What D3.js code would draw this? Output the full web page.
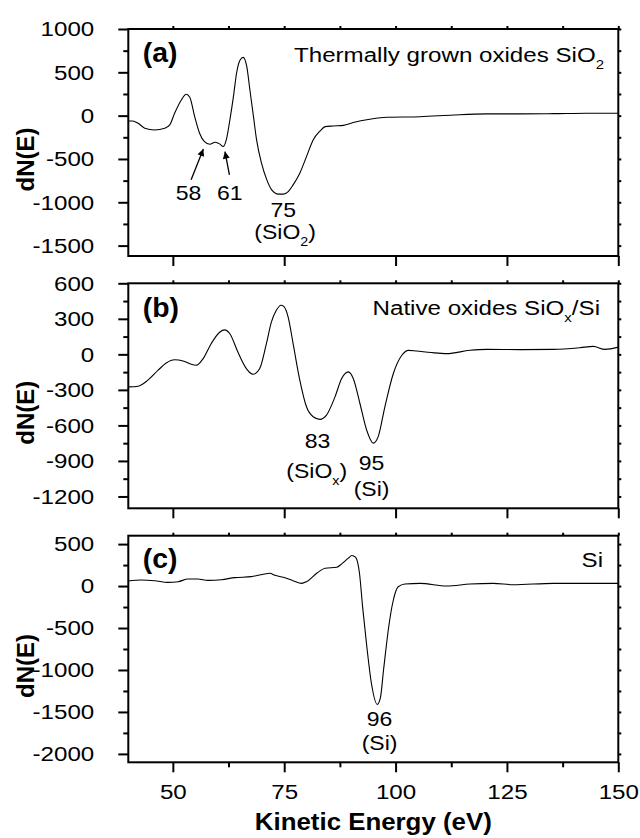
<!DOCTYPE html>
<html>
<head>
<meta charset="utf-8">
<script src="https://cdn.jsdelivr.net/npm/d3@7"></script>
<style>
  body { margin: 0; background: #fff; }
  text { font-family: "Liberation Sans", Arial, sans-serif; fill: #000; }
</style>
</head>
<body>
<div id="chart"></div>
<script>
// size of the page
const width = 640;
const height = 838;

// ---- data ----
// (a) thermally grown oxides
const energyA = [40, 41, 42.2, 43.7, 45.9, 48.2, 49.3, 50.4, 51.9, 53.0, 53.8, 54.9, 56.0, 57.1, 58.3, 59.5, 60.5, 61.3, 62.0, 62.8, 63.6, 64.3, 65.1, 65.8, 66.6, 67.3, 68.1, 68.8, 69.9, 71.1, 72.2, 73.7, 74.8, 75.9, 77.0, 78.5, 80.0, 81.5, 83.0, 84.2, 86.0, 88.3, 90.5, 94.2, 98.0, 105.5, 113, 120.5, 128, 135.4, 142.9, 150];
const dNA = [-61, -61, -88, -145, -165, -145, -107, 28, 181, 247, 212, -12, -203, -300, -330, -307, -326, -357, -280, -50, 219, 489, 642, 673, 565, 296, -12, -280, -549, -741, -857, -906, -906, -876, -799, -664, -473, -280, -180, -127, -119, -112, -80, -42, -18, -12, 8, 20, 20, 23, 28, 28];
// (b) native oxides
const energyB = [40, 42.2, 44.4, 46.7, 48.5, 50.4, 52.3, 54.1, 55.3, 56.8, 58.6, 60.5, 61.6, 62.8, 64.6, 66.5, 68.0, 69.5, 71.0, 72.1, 73.2, 74.3, 74.9, 75.9, 77.0, 78.5, 80.0, 81.5, 83.0, 84.5, 86.4, 87.9, 89.4, 90.5, 92.0, 93.5, 95.0, 96.1, 97.6, 99.5, 101.4, 102.9, 104.7, 108, 111.5, 116.7, 120.5, 128, 135.4, 141.4, 144.4, 147, 150];
const dNB = [-275, -269, -218, -134, -73, -45, -56, -84, -92, -36, 90, 187, 207, 174, 19, -120, -168, -120, 90, 270, 370, 415, 405, 313, 90, -218, -443, -527, -549, -513, -359, -204, -148, -204, -415, -639, -750, -695, -443, -162, -8, 34, 28, 15, 6, 34, 42, 40, 42, 56, 67, 42, 61];
// (c) Si
const energyC = [40, 42.9, 45.9, 48.9, 51.2, 53.4, 55.6, 57.9, 60.9, 63.9, 67.6, 70.6, 71.8, 72.9, 74.8, 77.0, 78.9, 80.0, 82.3, 84.2, 86.8, 87.9, 89.4, 90.2, 91.0, 91.9, 92.6, 93.5, 94.6, 95.9, 96.6, 97.3, 98.5, 99.4, 100.6, 102.1, 105.5, 111.5, 116.7, 121.9, 126.4, 135.4, 142.9, 150];
const dNC = [60, 72, 64, 44, 52, 84, 84, 68, 76, 100, 112, 144, 152, 128, 104, 64, 32, 52, 152, 212, 224, 264, 332, 364, 344, 152, -248, -700, -1167, -1410, -1330, -1000, -470, -190, -8, 24, 32, 0, 24, 32, 16, 32, 32, 32];

// axis ticks
const xMajor = [50, 75, 100, 125, 150];
const xMinor = [62.5, 87.5, 112.5, 137.5];
const yMajorA = [-1500, -1000, -500, 0, 500, 1000];
const yMinorA = [-1250, -750, -250, 250, 750];
const yMajorB = [-1200, -900, -600, -300, 0, 300, 600];
const yMinorB = [-1050, -750, -450, -150, 150, 450];
const yMajorC = [-2000, -1500, -1000, -500, 0, 500];
const yMinorC = [-1750, -1250, -750, -250, 250];

// panel settings
const panels = [
  {tag: "(a)", energy: energyA, dN: dNA, domain: [-1620, 1000], top: 29, bottom: 256,
   yMajor: yMajorA, yMinor: yMinorA, title: ["Thermally grown oxides SiO", "2", ""], bottomMinor: false},
  {tag: "(b)", energy: energyB, dN: dNB, domain: [-1300, 600], top: 283.3, bottom: 508.3,
   yMajor: yMajorB, yMinor: yMinorB, title: ["Native oxides SiO", "x", "/Si"], bottomMinor: false},
  {tag: "(c)", energy: energyC, dN: dNC, domain: [-2100, 600], top: 535.7, bottom: 762.3,
   yMajor: yMajorC, yMinor: yMinorC, title: ["Si", "", ""], bottomMinor: true},
];

// peak labels in data units (energy, dN at baseline); parts = [text, sub, after]
const peakLabels = [
  [ {e: 53.5, v: -972, t: ["58"]}, {e: 62.8, v: -972, t: ["61"]},
    {e: 74.8, v: -1170, t: ["75"]}, {e: 75.2, v: -1420, t: ["(SiO", "2", ")"]} ],
  [ {e: 82.5, v: -790, t: ["83"]}, {e: 82.3, v: -1045, t: ["(SiO", "x", ")"]},
    {e: 94.6, v: -975, t: ["95"]}, {e: 94.6, v: -1200, t: ["(Si)"]} ],
  [ {e: 96.4, v: -1668, t: ["96"]}, {e: 96.4, v: -1955, t: ["(Si)"]} ],
];
// arrows in panel (a): tail -> tip
const arrowsA = [
  {from: [54.1, -741], to: [56.85, -384]},
  {from: [62.7, -684], to: [61.7, -415]},
];

const left = 128.3, right = 618.3;
const sx = 1.15; // the figure's text is a little wide

const svg = d3.select("#chart").append("svg")
  .attr("width", width).attr("height", height);

svg.append("defs").append("marker")
  .attr("id", "arrow")
  .attr("viewBox", "0 0 10 10")
  .attr("refX", 10).attr("refY", 5)
  .attr("markerWidth", 9).attr("markerHeight", 7)
  .attr("markerUnits", "userSpaceOnUse")
  .attr("orient", "auto")
  .append("path").attr("d", "M0,0 L10,5 L0,10 z").attr("fill", "#000");

const x = d3.scaleLinear().domain([40, 150]).range([left, right]);

// text with optional subscript part
function addText(g, px, py, parts, size, anchor, weight, stretch) {
  const t = g.append("text")
    .attr("transform", `translate(${px},${py}) scale(${stretch},1)`)
    .attr("font-size", size)
    .attr("font-weight", weight || "normal")
    .attr("text-anchor", anchor);
  t.append("tspan").text(parts[0]);
  if (parts[1]) t.append("tspan").attr("font-size", size * 0.62).attr("dy", 7).text(parts[1]);
  if (parts[2]) t.append("tspan").attr("dy", parts[1] ? -7 : 0).text(parts[2]);
  return t;
}

function styleTicks(g) {
  g.select(".domain").remove();
  g.selectAll(".tick line").attr("stroke", "#000").attr("stroke-width", 2);
  g.selectAll(".tick text").attr("font-size", 21).attr("fill", "#000")
    .attr("font-family", "Liberation Sans, Arial, sans-serif")
    .attr("transform", `scale(${sx},1)`);
}

const plain = d => String(d); // hyphen minus, no thousands comma

panels.forEach((p, i) => {
  const y = d3.scaleLinear().domain(p.domain).range([p.bottom, p.top]);
  const g = svg.append("g").attr("class", "panel-" + i);

  // left axis: major with labels, minor without
  g.append("g").attr("transform", `translate(${left},0)`)
    .call(d3.axisLeft(y).tickValues(p.yMajor).tickSize(10).tickPadding(19.6).tickFormat(plain))
    .call(styleTicks);
  g.append("g").attr("transform", `translate(${left},0)`)
    .call(d3.axisLeft(y).tickValues(p.yMinor).tickSize(5).tickFormat(""))
    .call(styleTicks);
  // right axis: small outward ticks
  g.append("g").attr("transform", `translate(${right},0)`)
    .call(d3.axisRight(y).tickValues(p.yMajor.concat(p.yMinor)).tickSize(3).tickFormat(""))
    .call(styleTicks);
  // top axis
  g.append("g").attr("transform", `translate(0,${p.top})`)
    .call(d3.axisTop(x).tickValues(xMajor.concat(xMinor)).tickSize(3).tickFormat(""))
    .call(styleTicks);
  // bottom axis
  const last = i === panels.length - 1;
  g.append("g").attr("transform", `translate(0,${p.bottom})`)
    .call(d3.axisBottom(x).tickValues(xMajor).tickSize(10).tickPadding(12)
      .tickFormat(last ? plain : ""))
    .call(styleTicks);
  if (p.bottomMinor) {
    g.append("g").attr("transform", `translate(0,${p.bottom})`)
      .call(d3.axisBottom(x).tickValues(xMinor).tickSize(5).tickFormat(""))
      .call(styleTicks);
  }

  // frame
  g.append("rect")
    .attr("x", left).attr("y", p.top)
    .attr("width", right - left).attr("height", p.bottom - p.top)
    .attr("fill", "none").attr("stroke", "#000").attr("stroke-width", 2);

  // spectrum
  const pts = p.energy.map((e, k) => [e, p.dN[k]]);
  const line = d3.line(d => x(d[0]), d => y(d[1])).curve(d3.curveMonotoneX);
  g.append("path").datum(pts)
    .attr("fill", "none").attr("stroke", "#000").attr("stroke-width", 1.1)
    .attr("stroke-linejoin", "round")
    .attr("d", line);

  // panel tag and title
  addText(g, left + 14.5, p.top + [33, 34, 32][i], [p.tag], 27, "start", "bold", 1.05);
  addText(g, [604, 600, 603][i], p.top + [33, 32, 31][i], p.title, 21, "end", "normal", sx);

  // y title
  g.append("text")
    .attr("transform", `translate(34,${(p.top + p.bottom) / 2 + 17}) rotate(-90)`)
    .attr("text-anchor", "middle")
    .attr("font-size", 24).attr("font-weight", "bold")
    .text("dN(E)");

  // peak labels
  peakLabels[i].forEach(l => {
    addText(g, x(l.e), y(l.v), l.t, 20, "middle", "normal", sx);
  });

  if (i === 0) {
    arrowsA.forEach(a => {
      g.append("line")
        .attr("x1", x(a.from[0])).attr("y1", y(a.from[1]))
        .attr("x2", x(a.to[0])).attr("y2", y(a.to[1]))
        .attr("stroke", "#000").attr("stroke-width", 1.3)
        .attr("marker-end", "url(#arrow)");
    });
  }
});

// x title
addText(svg, (left + right) / 2, 830, ["Kinetic Energy (eV)"], 23.5, "middle", "bold", 1.1);
</script>
</body>
</html>
